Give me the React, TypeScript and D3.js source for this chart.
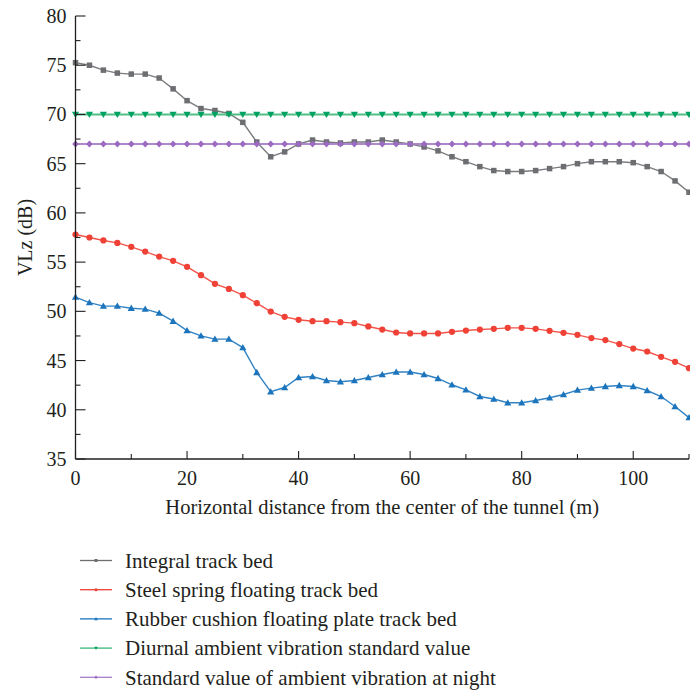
import React from "react";
import * as d3 from "d3";

const distances: number[] = d3.range(0, 110.01, 2.5);

const integralTrackBed: number[] = [
  75.26, 75.0, 74.5, 74.2, 74.1, 74.1, 73.7, 72.6, 71.4, 70.6,
  70.4, 70.1, 69.2, 67.2, 65.7, 66.2, 67.0, 67.4, 67.2, 67.1,
  67.2, 67.2, 67.4, 67.2, 67.0, 66.7, 66.3, 65.7, 65.2, 64.7,
  64.3, 64.2, 64.2, 64.3, 64.5, 64.7, 65.0, 65.2, 65.2, 65.2,
  65.1, 64.7, 64.2, 63.25, 62.1,
];

const steelSpring: number[] = [
  57.8, 57.5, 57.2, 56.95, 56.55, 56.07, 55.56, 55.13, 54.52, 53.67,
  52.79, 52.28, 51.64, 50.83, 49.98, 49.44, 49.14, 49.0, 49.0, 48.9,
  48.8, 48.46, 48.15, 47.85, 47.75, 47.75, 47.75, 47.92, 48.05, 48.15,
  48.22, 48.32, 48.32, 48.22, 48.02, 47.82, 47.61, 47.28, 47.08, 46.67,
  46.22, 45.92, 45.38, 44.87, 44.23,
];

const rubberCushion: number[] = [
  51.44, 50.89, 50.53, 50.53, 50.32, 50.22, 49.82, 49.0, 48.05, 47.51,
  47.18, 47.18, 46.32, 43.79, 41.83, 42.26, 43.28, 43.38, 42.97, 42.84,
  42.97, 43.28, 43.58, 43.83, 43.83, 43.58, 43.18, 42.54, 42.03, 41.35,
  41.09, 40.71, 40.71, 40.94, 41.22, 41.55, 42.0, 42.2, 42.37, 42.47,
  42.37, 41.96, 41.35, 40.33, 39.2,
];

const diurnalStandard: number[] = distances.map(() => 70);
const nightStandard: number[] = distances.map(() => 67);

const seriesNames: string[] = [
  "Integral track bed",
  "Steel spring floating track bed",
  "Rubber cushion floating plate track bed",
  "Diurnal ambient vibration standard value",
  "Standard value of ambient vibration at night",
];

const xTicks: number[] = [0, 20, 40, 60, 80, 100];
const yTicks: number[] = [35, 40, 45, 50, 55, 60, 65, 70, 75, 80];

const FONT = "'Liberation Serif', 'DejaVu Serif', serif";
const AXIS = "#231f20";

type Marker = "square" | "circle" | "triUp" | "triDown" | "diamond";

const styles: { line: string; fill: string; marker: Marker }[] = [
  { line: "#6d6e71", fill: "#6d6e71", marker: "square" },
  { line: "#ef4136", fill: "#ef4136", marker: "circle" },
  { line: "#1c75bc", fill: "#1c75bc", marker: "triUp" },
  { line: "#3cb878", fill: "#00a261", marker: "triDown" },
  { line: "#a67cc8", fill: "#9b6bc2", marker: "diamond" },
];

function markerPath(m: Marker, s: number): string {
  switch (m) {
    case "square":
      return `M${-s / 2},${-s / 2}h${s}v${s}h${-s}Z`;
    case "circle":
      return d3.symbol(d3.symbolCircle, s * s * 0.85)() || "";
    case "triUp":
      return `M0,${-s * 0.6}L${s * 0.6},${s * 0.45}L${-s * 0.6},${s * 0.45}Z`;
    case "triDown":
      return `M0,${s * 0.6}L${s * 0.6},${-s * 0.45}L${-s * 0.6},${-s * 0.45}Z`;
    case "diamond":
      return `M0,${-s * 0.6}L${s * 0.55},0L0,${s * 0.6}L${-s * 0.55},0Z`;
  }
}

export default function App() {
  const W = 690;
  const H = 690;
  const x = d3.scaleLinear().domain([0, 110]).range([75.5, 689]);
  const y = d3.scaleLinear().domain([35, 80]).range([459, 16]);

  const data = [integralTrackBed, steelSpring, rubberCushion, diurnalStandard, nightStandard];
  const line = d3
    .line<number>()
    .x((_, i) => x(distances[i]))
    .y((v) => y(v));

  const xMinor = d3.range(0, 111, 10);
  const yMinor = d3.range(35, 80.01, 2.5);

  return (
    <svg
      width={W}
      height={H}
      style={{ position: "absolute", left: 0, top: 0, background: "#fff" }}
    >
      {data.map((vals, si) => (
        <g key={si}>
          <path
            d={line(vals) || ""}
            fill="none"
            stroke={styles[si].line}
            strokeWidth={si >= 3 ? 2 : 1.4}
            strokeOpacity={0.9}
          />
          {vals.map((v, i) => (
            <path
              key={i}
              d={markerPath(styles[si].marker, si === 0 ? 5.5 : 6)}
              transform={`translate(${x(distances[i])},${y(v)})`}
              fill={styles[si].fill}
            />
          ))}
        </g>
      ))}

      <line x1={x(0)} x2={x(0)} y1={y(80)} y2={y(35)} stroke={AXIS} strokeWidth={1.3} />
      {yMinor.map((t) => {
        const major = yTicks.includes(t);
        return (
          <line
            key={t}
            x1={x(0)}
            x2={x(0) + (major ? 10 : 5)}
            y1={y(t)}
            y2={y(t)}
            stroke={AXIS}
            strokeWidth={1.1}
          />
        );
      })}
      {yTicks.map((t) => (
        <text
          key={t}
          x={x(0) - 9}
          y={y(t)}
          dy="0.35em"
          textAnchor="end"
          fontFamily={FONT}
          fontSize={20}
          fill={AXIS}
        >
          {t}
        </text>
      ))}

      <line x1={x(0)} x2={x(110)} y1={y(35)} y2={y(35)} stroke={AXIS} strokeWidth={1.3} />
      {xMinor.map((t) => {
        const major = t % 20 === 0;
        return (
          <line
            key={t}
            x1={x(t)}
            x2={x(t)}
            y1={y(35)}
            y2={y(35) - (major ? 8 : 5)}
            stroke={AXIS}
            strokeWidth={1.1}
          />
        );
      })}
      {xTicks.map((t) => (
        <text
          key={t}
          x={x(t)}
          y={y(35) + 19}
          dy="0.35em"
          textAnchor="middle"
          fontFamily={FONT}
          fontSize={20}
          fill={AXIS}
        >
          {t}
        </text>
      ))}

      <text
        x={(x(0) + x(110)) / 2}
        y={507}
        dy="0.35em"
        textAnchor="middle"
        fontFamily={FONT}
        fontSize={20.5}
        fill={AXIS}
      >
        Horizontal distance from the center of the tunnel (m)
      </text>
      <text
        transform={`translate(25,${(y(35) + y(80)) / 2}) rotate(-90)`}
        dy="0.35em"
        textAnchor="middle"
        fontFamily={FONT}
        fontSize={20}
        fill={AXIS}
      >
        VLz (dB)
      </text>

      {seriesNames.map((name, i) => {
        const ly = 560.5 + i * 29.2;
        return (
          <g key={name}>
            <line x1={80} x2={112} y1={ly} y2={ly} stroke={styles[i].line} strokeWidth={1.3} />
            <path
              d={markerPath(styles[i].marker, 3)}
              transform={`translate(96,${ly})`}
              fill={styles[i].fill}
            />
            <text
              x={125}
              y={ly}
              dy="0.35em"
              fontFamily={FONT}
              fontSize={21}
              fill={AXIS}
            >
              {name}
            </text>
          </g>
        );
      })}
    </svg>
  );
}
